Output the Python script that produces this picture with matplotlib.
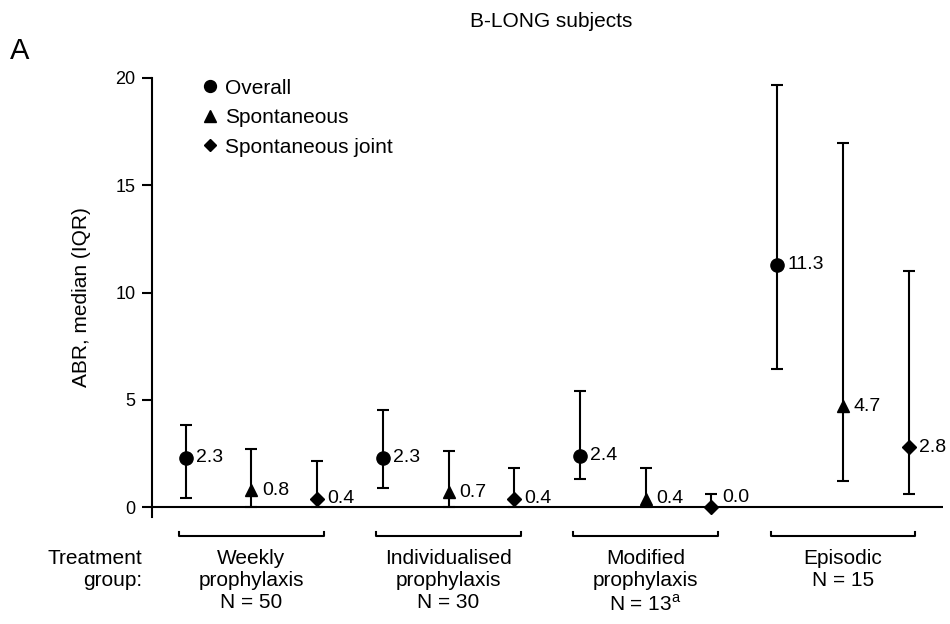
import matplotlib.pyplot as plt
from matplotlib.lines import Line2D

plt.rcParams['font.family'] = ['Liberation Sans', 'DejaVu Sans']

# Data (ABR median and IQR)
groups = ['Weekly\nprophylaxis\nN = 50', 'Individualised\nprophylaxis\nN = 30',
          'Modified\nprophylaxis\nN = 13$^{\\mathregular{a}}$', 'Episodic\nN = 15']
categories = ['Overall', 'Spontaneous', 'Spontaneous joint']
markers = ['o', '^', 'D']
msizes = [9.5, 9.2, 7]

overall_med = [2.3, 2.3, 2.4, 11.3]
overall_lo = [0.42, 0.91, 1.32, 6.44]
overall_hi = [3.83, 4.53, 5.43, 19.67]

spont_med = [0.8, 0.7, 0.4, 4.7]
spont_lo = [0.0, 0.0, 0.0, 1.24]
spont_hi = [2.70, 2.64, 1.82, 16.97]

joint_med = [0.4, 0.4, 0.0, 2.8]
joint_lo = [0.0, 0.0, 0.0, 0.62]
joint_hi = [2.16, 1.82, 0.6, 11.02]

med = [overall_med, spont_med, joint_med]
lo = [overall_lo, spont_lo, joint_lo]
hi = [overall_hi, spont_hi, joint_hi]

fig = plt.figure(figsize=(9.5, 6.24), dpi=100)
ax = fig.add_axes([0.1603, 0.1715, 0.8320, 0.7037])

for c in range(3):
    xs = [3 * g + c for g in range(4)]
    yerr = [[m - l for m, l in zip(med[c], lo[c])],
            [h - m for m, h in zip(med[c], hi[c])]]
    ax.errorbar(xs, med[c], yerr=yerr, fmt=markers[c], color='black',
                markersize=msizes[c], ecolor='black', elinewidth=1.5,
                capsize=4.5, capthick=1.5, zorder=3, clip_on=False)
    for x, m in zip(xs, med[c]):
        # the 0.0 label sits beside the cap, above the axis line
        dy = 7 if m == 0 else 0
        ax.annotate(f'{m:.1f}', (x, m), xytext=(7.5, dy), textcoords='offset points',
                    ha='left', va='center', fontsize=14)

ax.axhline(0, color='black', lw=1.5, zorder=2)

ax.set_xlim(-0.51, 11.52)
ax.set_ylim(-0.45, 20)
ax.set_yticks([0, 5, 10, 15, 20])
ax.set_xticks([])
for s in ['top', 'right', 'bottom']:
    ax.spines[s].set_visible(False)
ax.spines['left'].set_linewidth(1.5)
ax.tick_params(axis='y', length=7, width=1.5, pad=5, labelsize=13)
ax.set_ylabel('ABR, median (IQR)', fontsize=15)
ax.yaxis.set_label_coords(-0.077, 0.5)

# group brackets and labels below the axis
for g, name in enumerate(groups):
    x0, x1 = 3 * g - 0.1, 3 * g + 2.1
    ax.plot([x0, x0, x1, x1], [-1.14, -1.34, -1.34, -1.14], color='black',
            lw=1.5, clip_on=False)
    ax.text(3 * g + 1, -1.95, name, ha='center', va='top', fontsize=15,
            linespacing=1.2)
ax.text(-0.67, -1.95, 'Treatment\ngroup:', ha='right', va='top', fontsize=15,
        linespacing=1.2)

handles = [Line2D([], [], marker=mk, color='black', linestyle='none',
                  markersize=ms * 0.9) for mk, ms in zip(markers, msizes)]
ax.legend(handles, categories, loc='upper left', bbox_to_anchor=(0.063, 0.998),
          frameon=False, fontsize=15, handlelength=0.8, handletextpad=0.3,
          labelspacing=0.5, borderpad=0, borderaxespad=0)

fig.text(0.58, 0.965, 'B-LONG subjects', ha='center', va='center', fontsize=15)
fig.text(0.01, 0.918, 'A', ha='left', va='center', fontsize=21)

fig.savefig('out.png', dpi=100)
